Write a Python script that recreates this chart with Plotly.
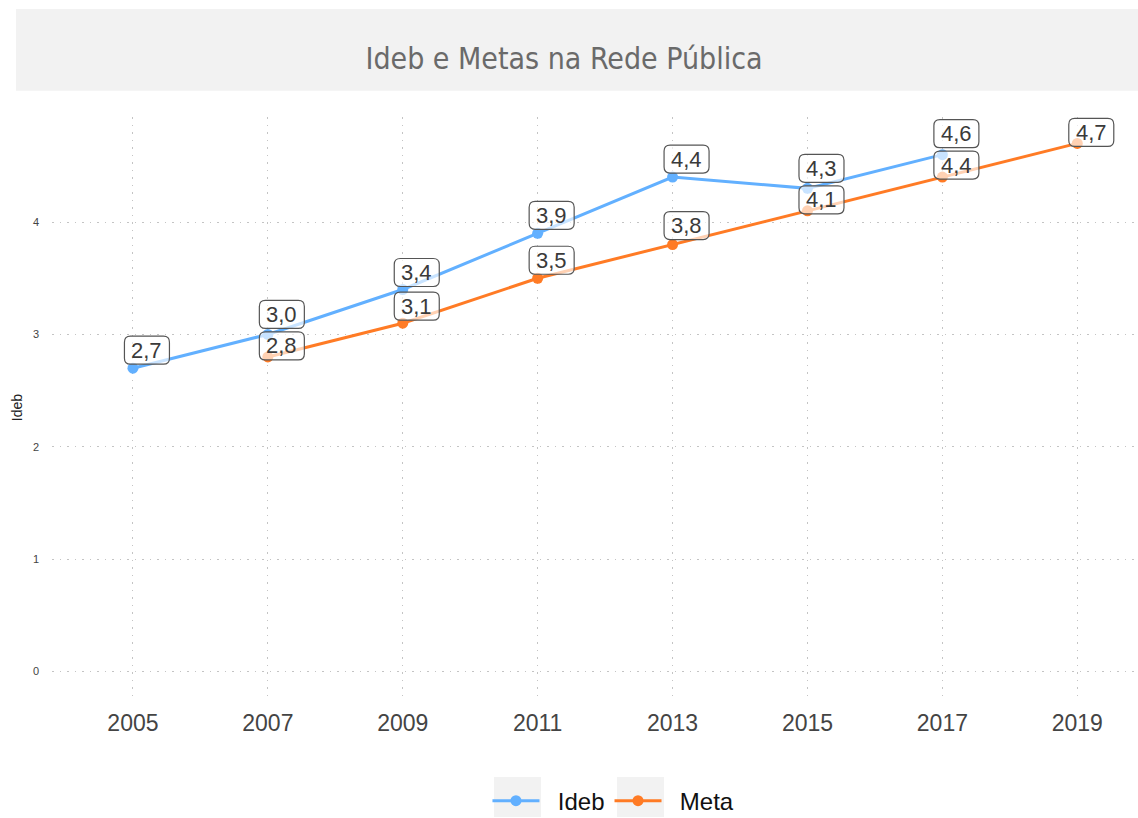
import plotly.graph_objects as go

# Data
anos = [2005, 2007, 2009, 2011, 2013, 2015, 2017, 2019]
ideb_anos = [2005, 2007, 2009, 2011, 2013, 2015, 2017]
ideb = [2.7, 3.0, 3.4, 3.9, 4.4, 4.3, 4.6]
meta_anos = [2007, 2009, 2011, 2013, 2015, 2017, 2019]
meta = [2.8, 3.1, 3.5, 3.8, 4.1, 4.4, 4.7]

# Label offsets in pixels (repelled placement)
ideb_dy = [18, 20, 17, 18, 18, 20, 21]
meta_dy = [11, 17, 18, 19, 11, 12, 11]
label_dx = 14

COR_IDEB = "#62b0ff"
COR_META = "#ff7b25"
FONTE = "Liberation Sans, Arial, sans-serif"
GAP = "\u00a0\u00a0"

fig = go.Figure()
fig.add_trace(go.Scatter(x=ideb_anos, y=ideb, name=GAP + "Ideb", mode="lines+markers",
                         line=dict(color=COR_IDEB, width=3),
                         marker=dict(color=COR_IDEB, size=11)))
fig.add_trace(go.Scatter(x=meta_anos, y=meta, name=GAP + "Meta", mode="lines+markers",
                         line=dict(color=COR_META, width=3),
                         marker=dict(color=COR_META, size=11)))


def rounded_box(cx, cy, w, h, r):
    # rounded rectangle path in pixel units around (cx, cy)
    x0, x1, y0, y1 = cx - w / 2, cx + w / 2, cy - h / 2, cy + h / 2
    return (f"M{x0 + r},{y0} L{x1 - r},{y0} Q{x1},{y0} {x1},{y0 + r} "
            f"L{x1},{y1 - r} Q{x1},{y1} {x1 - r},{y1} L{x0 + r},{y1} "
            f"Q{x0},{y1} {x0},{y1 - r} L{x0},{y0 + r} Q{x0},{y0} {x0 + r},{y0} Z")


def fmt(v):
    return f"{v:.1f}".replace(".", ",")


shapes = [
    # title band
    dict(type="rect", xref="paper", yref="paper", x0=-0.0332, x1=1.0, y0=1.045, y1=1.186,
         fillcolor="#f2f2f2", line=dict(width=0), layer="below"),
    # legend key backgrounds
    dict(type="rect", xref="paper", yref="paper", x0=0.407, x1=0.4503, y0=-0.2048, y1=-0.136,
         fillcolor="#f2f2f2", line=dict(width=0), layer="below"),
    dict(type="rect", xref="paper", yref="paper", x0=0.5203, x1=0.5635, y0=-0.2048, y1=-0.136,
         fillcolor="#f2f2f2", line=dict(width=0), layer="below"),
]
annotations = []
for xs, ys, dys in [(ideb_anos, ideb, ideb_dy), (meta_anos, meta, meta_dy)]:
    for xv, yv, dy in zip(xs, ys, dys):
        shapes.append(dict(
            type="path", xref="x", yref="y", xsizemode="pixel", ysizemode="pixel",
            xanchor=xv, yanchor=yv,
            path=rounded_box(label_dx, dy, 45, 28, 6),
            fillcolor="rgba(255,255,255,0.65)",
            line=dict(color="#555555", width=1.2), layer="above",
        ))
        annotations.append(dict(
            x=xv, y=yv, xref="x", yref="y", text=fmt(yv), showarrow=False,
            xshift=label_dx, yshift=dy,
            font=dict(family=FONTE, size=22, color="#3a3a3a"),
        ))

fig.update_layout(
    width=1138, height=818,
    margin=dict(l=52, r=0, t=117, b=120, autoexpand=False),
    paper_bgcolor="white", plot_bgcolor="white",
    title=dict(text="Ideb e Metas na Rede Pública", x=0.4715, xref="paper", xanchor="center",
               y=1 - 58 / 818, yanchor="middle",
               font=dict(family="DejaVu Sans Condensed, Liberation Sans Narrow, sans-serif",
                         size=30, color="#6a6a6a")),
    xaxis=dict(range=[2003.8, 2019.9], tickvals=anos, ticktext=[str(a) for a in anos],
               showgrid=True, gridcolor="#c4c4c4", griddash="1.5px,6px", gridwidth=1,
               zeroline=False, showline=False, ticks="", ticklabelstandoff=9,
               tickfont=dict(family=FONTE, size=23, color="#444444")),
    yaxis=dict(range=[-0.235, 4.935], tickvals=[0, 1, 2, 3, 4],
               showgrid=True, gridcolor="#c4c4c4", griddash="1.5px,6px", gridwidth=1,
               zeroline=False, showline=False, ticks="", ticklabelstandoff=12,
               title=dict(text="Ideb", standoff=6,
                          font=dict(family=FONTE, size=14, color="#222222")),
               tickfont=dict(family=FONTE, size=11, color="#444444")),
    legend=dict(orientation="h", x=0.517, xanchor="center", y=-0.1775, yanchor="middle",
                font=dict(family=FONTE, size=24, color="#111111"),
                itemwidth=47, bgcolor="rgba(0,0,0,0)"),
    shapes=shapes,
    annotations=annotations,
)

fig.write_html("out.html")
